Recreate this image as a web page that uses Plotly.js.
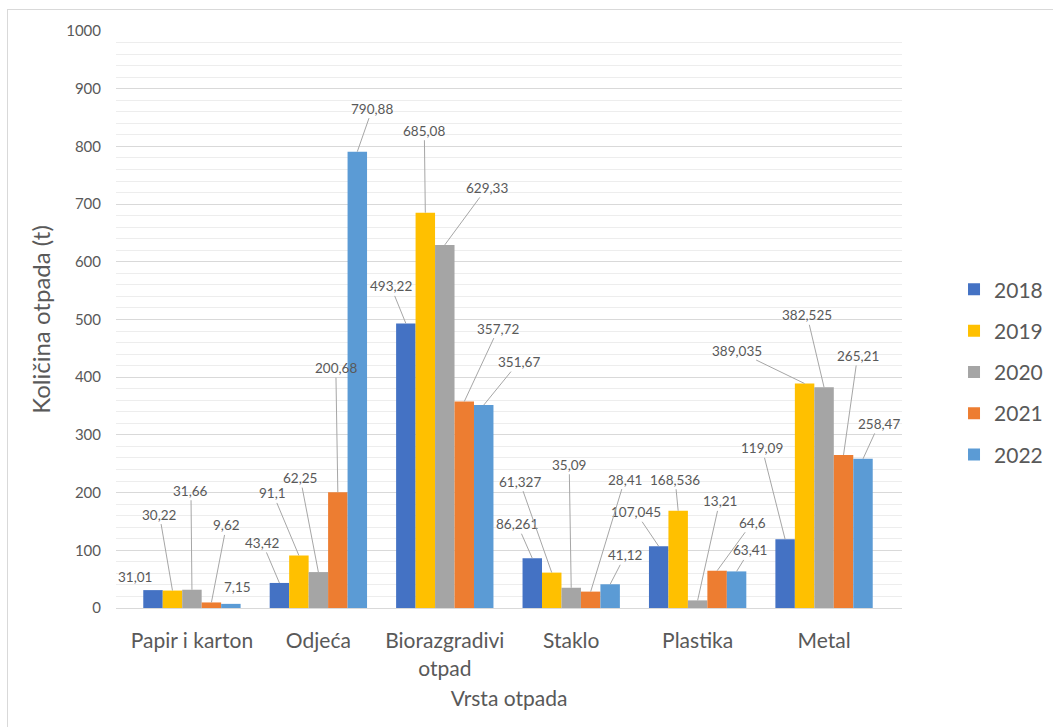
<!DOCTYPE html>
<html>
<head>
<meta charset="utf-8">
<script src="https://cdn.plot.ly/plotly-3.0.1.min.js"></script>
<style>
  html, body { margin: 0; padding: 0; background: #fff; overflow: hidden; }
  #chart { width: 1053px; height: 727px; }
  #frame { position: absolute; left: 7px; top: 9px; width: 1100px; height: 800px; border: 1px solid #D9D9D9; pointer-events: none; }
</style>
</head>
<body>
<div id="chart"></div>
<div id="frame"></div>
<script>
// ---- data ----
const categories = ["Papir i karton", "Odjeća", "Biorazgradivi<br>otpad", "Staklo", "Plastika", "Metal"];
const years = ["2018", "2019", "2020", "2021", "2022"];
const v2018 = [31.01, 43.42, 493.22, 86.261, 107.045, 119.09];
const v2019 = [30.22, 91.1, 685.08, 61.327, 168.536, 389.035];
const v2020 = [31.66, 62.25, 629.33, 35.09, 13.21, 382.525];
const v2021 = [9.62, 200.68, 357.72, 28.41, 64.6, 265.21];
const v2022 = [7.15, 790.88, 351.67, 41.12, 63.41, 258.47];
const yTitle = "Količina otpada (t)";
const xTitle = "Vrsta otpada";

// ---- styling / layout helpers ----
const series = [v2018, v2019, v2020, v2021, v2022];
const colors = ["#4472C4", "#FFC000", "#A5A5A5", "#ED7D31", "#5B9BD5"];
const textColor = "#595959";
const leaderColor = "#A6A6A6";
const font = "Lato, 'Open Sans', sans-serif";
const bargap = 0.23;

// label offsets (pixels) [ax, ay] per series per category
const labelOffsets = [
  [[-18,-13],[-17,-40],[-15,-37],[-15,-34],[-23,-34],[-23,-91]],
  [[-13,-76],[-26,-62],[-1,-82],[-32,-91],[-3,-31],[-68,-33]],
  [[-1,-99],[-18,-94],[42,-57],[-2,-123],[22,-99],[-17,-72]],
  [[15,-77],[-2,-124],[34,-73],[34,-112],[35,-48],[14,-99]],
  [[7,-17],[15,-43],[35,-43],[15,-29],[13,-21],[16,-35]]
];
const noLeader = { "0-0": true, "4-0": true };

const traces = series.map((vals, i) => ({
  type: "bar",
  name: years[i],
  x: categories,
  y: vals,
  marker: { color: colors[i], line: { width: 0 } },
  legendgroup: "g" + i,
  hoverinfo: "skip"
}));

const n = series.length;
const bw = (1 - bargap) / n;
const annotations = [];
series.forEach((vals, i) => {
  vals.forEach((v, k) => {
    const off = labelOffsets[i][k];
    annotations.push({
      x: k - (1 - bargap) / 2 + (i + 0.5) * bw,
      y: v,
      xref: "x", yref: "y",
      text: String(v).replace(".", ","),
      showarrow: true,
      arrowhead: 0,
      arrowwidth: 1,
      arrowcolor: noLeader[i + "-" + k] ? "rgba(0,0,0,0)" : leaderColor,
      standoff: 0,
      ax: off[0], ay: off[1],
      font: { family: font, size: 13.5, color: textColor },
      borderpad: 1
    });
  });
});

const layout = {
  width: 1053, height: 727,
  margin: { l: 116, r: 151, t: 31, b: 119 },
  paper_bgcolor: "#fff", plot_bgcolor: "#fff",
  font: { family: font, color: textColor },
  barmode: "group",
  bargap: bargap,
  bargroupgap: 0,
  showlegend: true,
  legend: {
    xref: "container", yref: "container",
    x: 0.906, xanchor: "left", y: 0.488, yanchor: "middle",
    font: { family: font, size: 21, color: textColor },
    tracegroupgap: 11,
    itemwidth: 30
  },
  xaxis: {
    type: "category",
    showgrid: false,
    showline: true, linecolor: "#D9D9D9", linewidth: 1,
    ticks: "",
    tickfont: { family: font, size: 21, color: textColor },
    ticklabelstandoff: 14,
    title: { text: xTitle, font: { family: font, size: 21, color: textColor }, standoff: 12 },
    fixedrange: true
  },
  yaxis: {
    range: [0, 1000],
    dtick: 100,
    showgrid: true, gridcolor: "#D9D9D9", gridwidth: 1,
    minor: { dtick: 20, showgrid: true, gridcolor: "#EDEDED", gridwidth: 1 },
    zeroline: false,
    showline: false,
    ticks: "",
    tickfont: { family: font, size: 15, color: textColor },
    ticklabelstandoff: 14,
    title: { text: yTitle, font: { family: font, size: 24, color: textColor }, standoff: 8 },
    fixedrange: true
  },
  annotations: annotations
};

Plotly.newPlot("chart", traces, layout, { displayModeBar: false, staticPlot: true });
</script>
</body>
</html>
